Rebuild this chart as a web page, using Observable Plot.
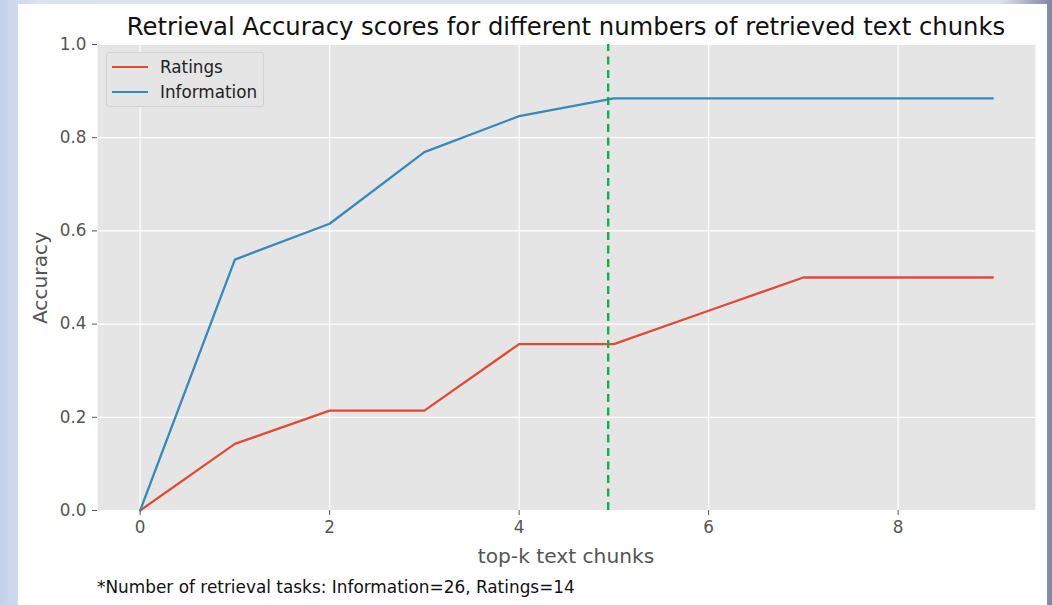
<!DOCTYPE html>
<html>
<head>
<meta charset="utf-8">
<script src="https://cdn.jsdelivr.net/npm/d3@7"></script>
<script src="https://cdn.jsdelivr.net/npm/@observablehq/plot@0.6"></script>
<style>
  html, body { margin: 0; padding: 0; }
  body {
    width: 1052px; height: 605px; overflow: hidden; position: relative;
    background: linear-gradient(90deg, #c4cfeb 0px, #d2daf0 18px, #dde2ee 40px, #dfe3ec 1000px, #8a90a8 1046px, #7d849e 1052px);
    font-family: "DejaVu Sans", sans-serif;
  }
  #panel { position: absolute; left: 18px; top: 4px; width: 1029px; height: 601px; background: #ffffff; }
  #chart { position: absolute; left: 0; top: 0; }
  .txt { position: absolute; white-space: nowrap; font-family: "DejaVu Sans", sans-serif; }
  #title { left: 566px; top: 12px; transform: translateX(-50%); font-size: 24.3px; color: #111; }
  #xlabel { left: 566px; top: 544px; transform: translateX(-50%); font-size: 20.2px; color: #555; }
  #ylabel { left: 40px; top: 278px; transform: translate(-50%, -50%) rotate(-90deg); font-size: 20.2px; color: #555; }
  #note { left: 97px; top: 577px; font-size: 16.9px; color: #111; }
  #legend { position: absolute; left: 106px; top: 52px; width: 156px; height: 53px; background: #e5e5e5; border: 1px solid #d2d2d2; border-radius: 3px; box-sizing: content-box; }
  .lg-row { position: absolute; left: 5px; height: 20px; }
  .lg-sw { position: absolute; left: 0; top: 9px; width: 36px; height: 2.2px; }
  .lg-tx { position: absolute; left: 48px; top: 0; font-size: 16.8px; color: #222; line-height: 20px; }
</style>
</head>
<body>
<div id="panel"></div>
<div id="chart"></div>
<div class="txt" id="title">Retrieval Accuracy scores for different numbers of retrieved text chunks</div>
<div class="txt" id="xlabel">top-k text chunks</div>
<div class="txt" id="ylabel">Accuracy</div>
<div class="txt" id="note">*Number of retrieval tasks: Information=26, Ratings=14</div>
<div id="legend"></div>
<script>
// ---- data ----
const topK = [0, 1, 2, 3, 4, 5, 6, 7, 8, 9];
const ratings = [0, 0.1429, 0.2143, 0.2143, 0.3571, 0.3571, 0.4286, 0.5, 0.5, 0.5];
const information = [0, 0.5385, 0.6154, 0.7692, 0.8462, 0.8846, 0.8846, 0.8846, 0.8846, 0.8846];
const seriesNames = ["Ratings", "Information"];
const seriesColors = ["#E24A33", "#348ABD"];
const cutoffK = [4.94];
const xTicks = [0, 2, 4, 6, 8];
const yTicks = [0.0, 0.2, 0.4, 0.6, 0.8, 1.0];

const rows = [];
topK.forEach((k, i) => {
  rows.push({k, acc: ratings[i], series: seriesNames[0]});
});
topK.forEach((k, i) => {
  rows.push({k, acc: information[i], series: seriesNames[1]});
});

const plot = Plot.plot({
  width: 1052,
  height: 560,
  marginLeft: 97,
  marginRight: 17,
  marginTop: 44,
  marginBottom: 50,
  style: {background: "transparent", fontFamily: "DejaVu Sans, sans-serif", fontSize: "16.8px", color: "#555"},
  x: {domain: [-0.45, 9.45], ticks: xTicks, label: null},
  y: {domain: [0, 1], ticks: yTicks, label: null},
  color: {domain: seriesNames, range: seriesColors},
  marks: [
    Plot.frame({fill: "#e5e5e5", stroke: null}),
    Plot.gridX(xTicks, {stroke: "white", strokeOpacity: 1, strokeWidth: 1.2}),
    Plot.gridY(yTicks, {stroke: "white", strokeOpacity: 1, strokeWidth: 1.2}),
    Plot.axisX(xTicks, {tickSize: 5, tickPadding: 6, stroke: "#555", fill: "#555", label: null, tickFormat: d => String(d)}),
    Plot.axisY(yTicks, {tickSize: 5, tickPadding: 6, stroke: "#555", fill: "#555", label: null, tickFormat: d => d.toFixed(1)}),
    Plot.line(rows, {x: "k", y: "acc", z: "series", stroke: "series", strokeWidth: 2.3}),
    Plot.ruleX(cutoffK, {stroke: "#0cb14b", strokeWidth: 2.4, strokeDasharray: "8,5.5", y1: 0, y2: 1})
  ]
});
document.getElementById("chart").appendChild(plot);

// legend
const lg = document.getElementById("legend");
seriesNames.forEach((name, i) => {
  const row = document.createElement("div");
  row.className = "lg-row";
  row.style.top = (4 + i * 25) + "px";
  const sw = document.createElement("div");
  sw.className = "lg-sw";
  sw.style.background = seriesColors[i];
  const tx = document.createElement("div");
  tx.className = "lg-tx";
  tx.textContent = name;
  row.appendChild(sw); row.appendChild(tx);
  lg.appendChild(row);
});
</script>
</body>
</html>
